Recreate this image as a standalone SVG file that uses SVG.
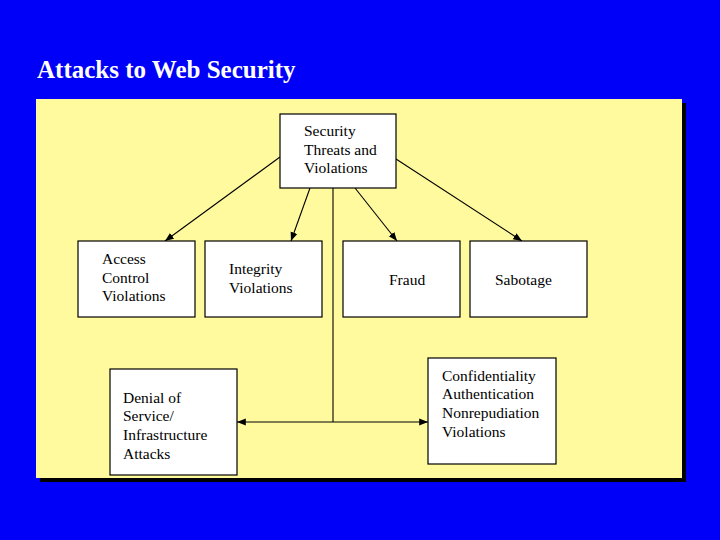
<svg xmlns="http://www.w3.org/2000/svg" width="720" height="540" viewBox="0 0 720 540">
<style>
.b{fill:#fff;stroke:#000;stroke-width:1.2}
.t{font-family:"Liberation Serif",serif;font-size:15.5px;fill:#000}
.c{stroke:#000;stroke-width:1.1;fill:none}
</style>
<defs><marker id="a" viewBox="0 0 10 10" refX="10" refY="5" markerWidth="8" markerHeight="8" orient="auto-start-reverse"><path d="M0,1L10,5L0,9z" fill="#000"/></marker></defs>
<rect width="720" height="540" fill="#0000f8"/>
<text x="37" y="78" font-family="Liberation Serif,serif" font-weight="bold" font-size="25" fill="#fff">Attacks to Web Security</text>
<rect x="40" y="103" width="646" height="379" fill="#000"/>
<rect x="36" y="99" width="646" height="379" fill="#fffa9e"/>
<g id="connectors">
<line class="c" x1="280" y1="157" x2="165" y2="241" marker-end="url(#a)"/>
<line class="c" x1="310" y1="188" x2="291" y2="241" marker-end="url(#a)"/>
<line class="c" x1="355" y1="188" x2="397" y2="241" marker-end="url(#a)"/>
<line class="c" x1="396" y1="159" x2="522" y2="241" marker-end="url(#a)"/>
<line class="c" x1="333" y1="188" x2="333" y2="422"/>
<line class="c" x1="237" y1="422" x2="428" y2="422" marker-start="url(#a)" marker-end="url(#a)"/>
</g>
<g id="top"><rect class="b" x="280" y="114" width="116" height="74"/><text class="t" x="304" y="136">Security</text><text class="t" x="304" y="155">Threats and</text><text class="t" x="304" y="173">Violations</text></g>
<g id="access"><rect class="b" x="78" y="241" width="117" height="76"/><text class="t" x="102" y="264">Access</text><text class="t" x="102" y="283">Control</text><text class="t" x="102" y="301">Violations</text></g>
<g id="integrity"><rect class="b" x="205" y="241" width="117" height="76"/><text class="t" x="229" y="274">Integrity</text><text class="t" x="229" y="293">Violations</text></g>
<g id="fraud"><rect class="b" x="343" y="241" width="117" height="76"/><text class="t" x="389" y="285">Fraud</text></g>
<g id="sabotage"><rect class="b" x="470" y="241" width="117" height="76"/><text class="t" x="495" y="285">Sabotage</text></g>
<g id="denial"><rect class="b" x="110" y="369" width="127" height="106"/><text class="t" x="123" y="403">Denial of</text><text class="t" x="123" y="421">Service/</text><text class="t" x="123" y="440">Infrastructure</text><text class="t" x="123" y="459">Attacks</text></g>
<g id="conf"><rect class="b" x="428" y="358" width="128" height="106"/><text class="t" x="442" y="381">Confidentiality</text><text class="t" x="442" y="399">Authentication</text><text class="t" x="442" y="418">Nonrepudiation</text><text class="t" x="442" y="437">Violations</text></g>
</svg>
